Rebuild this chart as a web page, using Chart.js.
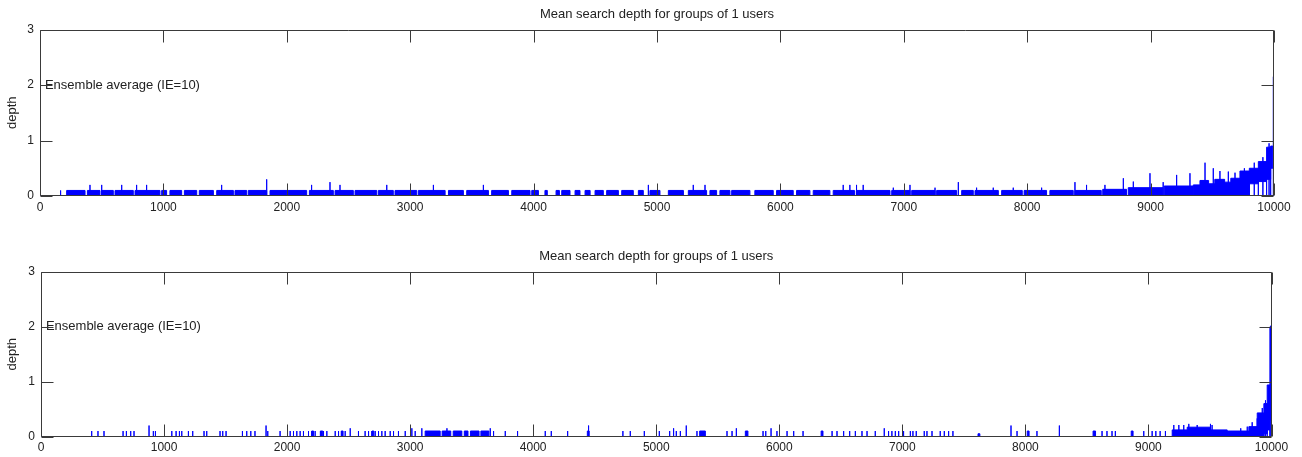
<!DOCTYPE html>
<html>
<head>
<meta charset="utf-8">
<script src="https://cdn.jsdelivr.net/npm/chart.js@4.4.1/dist/chart.umd.min.js"></script>
<style>
  html, body { margin: 0; padding: 0; background: #fff; }
  .panel { position: absolute; left: 0; width: 1302px; }
</style>
</head>
<body>
<div class="panel" style="top:0;height:228px"><canvas id="top-chart"></canvas></div>
<div class="panel" style="top:228px;height:229px"><canvas id="bottom-chart"></canvas></div>
<script>
const xTicks = [0, 1000, 2000, 3000, 4000, 5000, 6000, 7000, 8000, 9000, 10000];
const yTicks = [0, 1, 2, 3];
const titleText = 'Mean search depth for groups of 1 users';
const yLabel = 'depth';
const noteText = 'Ensemble average (IE=10)';
const notePos = [40, 2];

// filled runs: [from, to, low, high]
const topRuns = [
  [216, 365, 0, 0.1], [384, 486, 0, 0.1], [500, 594, 0, 0.1], [608, 756, 0, 0.1], [770, 972, 0, 0.1],
  [986, 1026, 0, 0.1], [1053, 1148, 0, 0.1], [1170, 1270, 0, 0.1], [1291, 1405, 0, 0.1], [1432, 1567, 0, 0.1],
  [1580, 1675, 0, 0.1], [1688, 1837, 0, 0.1], [1864, 2161, 0, 0.1], [2183, 2377, 0, 0.1], [2391, 2539, 0, 0.1],
  [2553, 2729, 0, 0.1], [2742, 2863, 0, 0.1], [2877, 3053, 0, 0.1], [3066, 3283, 0, 0.1], [3310, 3431, 0, 0.1],
  [3458, 3634, 0, 0.1], [3660, 3796, 0, 0.1], [3823, 3971, 0, 0.1], [3985, 4039, 0, 0.1], [4092, 4111, 0, 0.1],
  [4182, 4209, 0, 0.1], [4228, 4295, 0, 0.1], [4336, 4376, 0, 0.1], [4417, 4458, 0, 0.1], [4498, 4565, 0, 0.1],
  [4592, 4687, 0, 0.1], [4714, 4808, 0, 0.1], [4849, 4889, 0, 0.1], [4943, 5024, 0, 0.1], [5092, 5214, 0, 0.1],
  [5254, 5402, 0, 0.1], [5429, 5483, 0, 0.1], [5510, 5591, 0, 0.1], [5605, 5753, 0, 0.1], [5793, 5942, 0, 0.1],
  [5969, 6104, 0, 0.1], [6131, 6239, 0, 0.1], [6266, 6401, 0, 0.1], [6428, 6600, 0, 0.1], [6615, 6888, 0, 0.1],
  [6902, 7050, 0, 0.1], [7064, 7253, 0, 0.1], [7266, 7428, 0, 0.1], [7469, 7563, 0, 0.1], [7577, 7766, 0, 0.1],
  [7793, 7960, 0, 0.1], [7975, 8157, 0, 0.1], [8184, 8373, 0, 0.1], [8387, 8600, 0, 0.1], [8612, 8805, 0, 0.12],
  [8819, 9100, 0, 0.15], [9110, 9345, 0, 0.18], [9346, 9400, 0, 0.2], [9400, 9470, 0, 0.28], [9470, 9520, 0, 0.22],
  [9520, 9600, 0, 0.3], [9600, 9650, 0, 0.25], [9650, 9724, 0, 0.32], [9724, 9800, 0, 0.45], [9800, 9873, 0.22, 0.5],
  [9873, 9940, 0.26, 0.62], [9940, 9973, 0.3, 0.88], [9973, 9990, 0.5, 0.9]
];
// single spikes: [x, depth]
const topSpikes = [
  [167, 0.1], [405, 0.2], [500, 0.2], [662, 0.2], [783, 0.2], [864, 0.2], [1472, 0.2], [1837, 0.3],
  [2201, 0.2], [2350, 0.25], [2431, 0.2], [2810, 0.2], [3188, 0.2], [3593, 0.2], [4930, 0.2], [5294, 0.2],
  [5389, 0.2], [6509, 0.2], [6563, 0.2], [6617, 0.2], [6671, 0.2], [6915, 0.15], [7050, 0.2], [7253, 0.15],
  [7442, 0.25], [7590, 0.15], [7725, 0.15], [7887, 0.15], [8117, 0.15], [8387, 0.25], [8481, 0.2], [8630, 0.2],
  [8779, 0.32], [8860, 0.26], [8995, 0.41], [9102, 0.25], [9211, 0.38], [9319, 0.41], [9441, 0.6], [9508, 0.5],
  [9562, 0.45], [9630, 0.44], [9684, 0.42], [9760, 0.5], [9840, 0.6], [9910, 0.7], [9960, 0.95], [9995, 2.15]
];

const bottomRuns = [
  [2200, 2215, 0, 0.1], [2270, 2290, 0, 0.1], [2440, 2455, 0, 0.1], [2690, 2705, 0, 0.1], [3122, 3244, 0, 0.1],
  [3260, 3330, 0, 0.1], [3350, 3420, 0, 0.1], [3440, 3470, 0, 0.1], [3490, 3560, 0, 0.1], [3575, 3640, 0, 0.1],
  [4440, 4455, 0, 0.1], [5353, 5399, 0, 0.1], [5724, 5745, 0, 0.1], [6340, 6355, 0, 0.1], [7615, 7630, 0, 0.05],
  [8015, 8030, 0, 0.1], [8550, 8570, 0, 0.1], [8860, 8875, 0, 0.1], [9193, 9315, 0, 0.12], [9315, 9504, 0, 0.17],
  [9504, 9640, 0, 0.12], [9640, 9816, 0, 0.1], [9816, 9884, 0, 0.18], [9884, 9938, 0, 0.43], [9938, 9965, 0.05, 0.6],
  [9965, 9987, 0.12, 0.94], [9987, 9997, 0.3, 2.0]
];
const bottomSpikes = [
  [412, 0.1], [463, 0.1], [512, 0.1], [667, 0.1], [694, 0.1], [729, 0.1], [756, 0.1], [878, 0.2], [913, 0.1],
  [930, 0.1], [1063, 0.1], [1098, 0.1], [1125, 0.1], [1144, 0.1], [1198, 0.1], [1233, 0.1], [1325, 0.1],
  [1347, 0.1], [1455, 0.1], [1477, 0.1], [1504, 0.1], [1637, 0.1], [1672, 0.1], [1705, 0.1], [1739, 0.1],
  [1829, 0.2], [1843, 0.1], [1943, 0.1], [2025, 0.1], [2052, 0.1], [2079, 0.1], [2106, 0.1], [2133, 0.1],
  [2174, 0.1], [2201, 0.1], [2228, 0.1], [2274, 0.1], [2296, 0.1], [2323, 0.1], [2391, 0.1], [2418, 0.1],
  [2445, 0.1], [2472, 0.1], [2513, 0.15], [2580, 0.1], [2634, 0.1], [2662, 0.1], [2689, 0.1], [2716, 0.1],
  [2743, 0.1], [2770, 0.1], [2797, 0.1], [2838, 0.1], [2865, 0.1], [2905, 0.1], [2960, 0.1], [3014, 0.15],
  [3041, 0.1], [3095, 0.15], [3299, 0.15], [3651, 0.15], [3678, 0.1], [3773, 0.1], [3873, 0.1], [4098, 0.1],
  [4147, 0.1], [4280, 0.1], [4450, 0.2], [4729, 0.1], [4789, 0.1], [4903, 0.1], [5025, 0.1], [5109, 0.1],
  [5141, 0.15], [5163, 0.1], [5196, 0.1], [5244, 0.2], [5331, 0.1], [5575, 0.1], [5616, 0.1], [5651, 0.15],
  [5868, 0.1], [5890, 0.1], [5933, 0.15], [5981, 0.1], [6063, 0.1], [6117, 0.1], [6193, 0.1], [6429, 0.1],
  [6469, 0.1], [6523, 0.1], [6572, 0.1], [6618, 0.1], [6672, 0.1], [6713, 0.1], [6780, 0.1], [6853, 0.15],
  [6888, 0.1], [6915, 0.1], [6943, 0.1], [6970, 0.1], [7010, 0.1], [7065, 0.1], [7086, 0.1], [7113, 0.1],
  [7178, 0.1], [7200, 0.1], [7241, 0.1], [7308, 0.1], [7341, 0.1], [7376, 0.1], [7411, 0.1], [7883, 0.2],
  [7932, 0.1], [8094, 0.1], [8276, 0.2], [8623, 0.1], [8663, 0.1], [8704, 0.1], [8731, 0.1], [8962, 0.1],
  [9030, 0.1], [9060, 0.1], [9095, 0.1], [9138, 0.1], [9206, 0.21], [9247, 0.21], [9287, 0.21], [9328, 0.23],
  [9396, 0.21], [9504, 0.23], [9517, 0.21], [9750, 0.15], [9803, 0.18], [9843, 0.26], [9884, 0.33],
  [9925, 0.52], [9951, 0.66], [9995, 2.02]
];

const BLUE = '#0000ff';
const AXIS = '#3a3a3a';
const TEXT = '#222';
const FONT = '"Liberation Sans", Arial, sans-serif';
const TICK_LEN = 12;

Chart.defaults.font.family = FONT;
Chart.defaults.font.size = 12;
Chart.defaults.color = TEXT;

// runs are traced as closed boxes so fill:'shape' paints only low..high
function runPoints(runs) {
  const pts = [{ x: 0, y: 0 }];
  runs.forEach(([a, b, lo, hi]) => {
    pts.push({ x: a, y: 0 }, { x: a, y: hi }, { x: b, y: hi }, { x: b, y: lo }, { x: a, y: lo }, { x: a, y: 0 }, { x: b, y: 0 });
  });
  pts.push({ x: 10000, y: 0 });
  return pts;
}

function spikePoints(spikes) {
  const pts = [];
  spikes.forEach(([x, h]) => pts.push({ x, y: 0 }, { x, y: h }, { x, y: 0 }));
  return pts;
}

const frame = {
  id: 'frame',
  afterDatasetsDraw(chart) {
    const { ctx, chartArea: a, scales: { x, y } } = chart;
    ctx.save();
    ctx.fillStyle = TEXT;
    ctx.font = '13px ' + FONT;
    ctx.textBaseline = 'middle';
    ctx.textAlign = 'left';
    ctx.fillText(noteText, x.getPixelForValue(notePos[0]), y.getPixelForValue(notePos[1]));

    ctx.strokeStyle = AXIS;
    ctx.lineWidth = 1;
    ctx.beginPath();
    const L = Math.round(a.left) + 0.5, R = Math.round(a.right) - 0.5;
    const T = Math.round(a.top) + 0.5, B = Math.round(a.bottom) - 0.5;
    ctx.rect(L, T, R - L, B - T);
    xTicks.forEach(v => {
      const px = Math.round(x.getPixelForValue(v)) + 0.5;
      ctx.moveTo(px, T); ctx.lineTo(px, T + TICK_LEN);
      ctx.moveTo(px, B); ctx.lineTo(px, B - TICK_LEN);
    });
    yTicks.forEach(v => {
      const py = Math.round(y.getPixelForValue(v)) + 0.5;
      ctx.moveTo(L, py); ctx.lineTo(L + TICK_LEN, py);
      ctx.moveTo(R, py); ctx.lineTo(R - TICK_LEN, py);
    });
    ctx.stroke();
    ctx.restore();
  }
};

function drawPanel(id, runs, spikes, box) {
  const canvas = document.getElementById(id);
  return new Chart(canvas, {
    type: 'line',
    data: {
      datasets: [
        {
          data: runPoints(runs),
          borderColor: BLUE, backgroundColor: BLUE, borderWidth: 1,
          pointRadius: 0, stepped: true, fill: 'shape'
        },
        {
          data: spikePoints(spikes),
          borderColor: BLUE, borderWidth: 1,
          pointRadius: 0, stepped: true, fill: false
        }
      ]
    },
    options: {
      responsive: true,
      maintainAspectRatio: false,
      animation: false,
      events: [],
      layout: { padding: { left: 0, right: box.padRight, top: 0, bottom: 0 } },
      plugins: {
        legend: { display: false },
        tooltip: { enabled: false },
        title: {
          display: true, text: titleText, fullSize: false, color: TEXT,
          font: { size: 13, weight: 'normal' },
          padding: { top: box.titleTop, bottom: box.titleBottom }
        }
      },
      scales: {
        x: {
          type: 'linear', min: 0, max: 10000,
          grid: { display: false, drawTicks: false },
          border: { display: false },
          afterBuildTicks: s => { s.ticks = xTicks.map(v => ({ value: v })); },
          afterFit: s => { s.height = box.xHeight; },
          ticks: { padding: 4, maxRotation: 0, autoSkip: false, color: TEXT, callback: v => String(v) }
        },
        y: {
          min: 0, max: 3,
          grid: { display: false, drawTicks: false },
          border: { display: false },
          afterBuildTicks: s => { s.ticks = yTicks.map(v => ({ value: v })); },
          afterFit: s => { s.width = box.yWidth; },
          ticks: { padding: 6, color: TEXT, callback: v => String(v) },
          title: { display: true, text: yLabel, color: TEXT, font: { size: 13 }, padding: { top: 5, bottom: 0 } }
        }
      }
    },
    plugins: [frame]
  });
}

drawPanel('top-chart', topRuns, topSpikes, { padRight: 28, titleTop: 6.2, titleBottom: 7.7, xHeight: 32, yWidth: 40 });
drawPanel('bottom-chart', bottomRuns, bottomSpikes, { padRight: 30.5, titleTop: 20.9, titleBottom: 7.5, xHeight: 20.5, yWidth: 41 });
</script>
</body>
</html>
